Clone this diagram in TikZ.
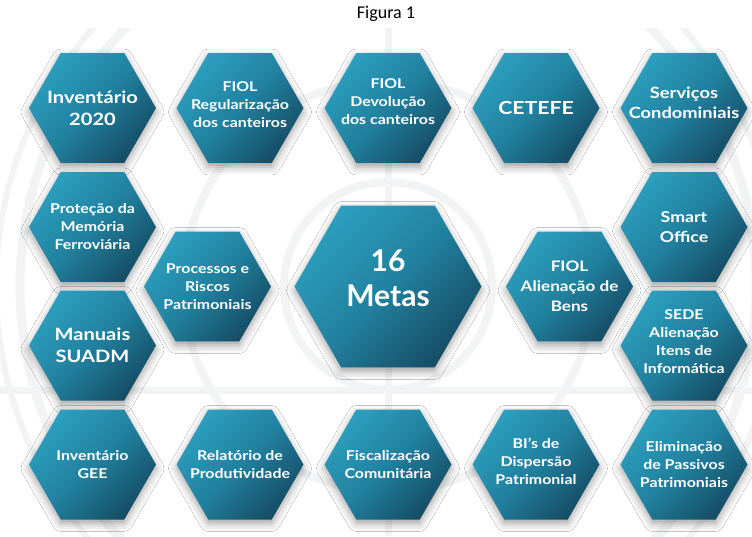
\documentclass[tikz,border=0pt]{standalone}
\usepackage{fontspec}
\setmainfont{Lato}
\newfontfamily\hexfont{Lato}[FakeStretch=1.18]
\newfontfamily\figfont{Carlito}
\usetikzlibrary{shapes.geometric,shadows.blur}
\definecolor{hexlight}{HTML}{2C9EBE}
\definecolor{hexmid}{HTML}{21819F}
\definecolor{hexdark}{HTML}{164D66}
\definecolor{bgline}{HTML}{F2F3F4}
% invisible depth that lifts a node's text by half its value
\newcommand\txtlift[1]{\rule[-#1]{0pt}{0pt}}
\tikzset{
  hexa/.style={regular polygon, regular polygon sides=6, minimum size=127pt,
    inner sep=-30pt, draw=none, align=center, text=white,
    top color=hexlight, bottom color=hexdark, middle color=hexmid, shading angle=45,
    font=\hexfont\bfseries\fontsize{13.5}{18}\selectfont,
    blur shadow={shadow xshift=0pt, shadow yshift=-4pt, shadow blur radius=8pt, shadow opacity=38}},
  bigtext/.style={font=\hexfont\bfseries\fontsize{17}{22}\selectfont},
  ring/.style={draw=bgline, line width=#1},
}
\begin{document}
\begin{tikzpicture}[x=1pt,y=-1pt]
\useasboundingbox (0,0) rectangle (752,536);
\fill[white] (0,0) rectangle (752,536);
\begin{scope}
\clip (0,28) rectangle (752,536);
\draw[ring=8pt] (388,286) circle (104);
\draw[ring=8pt] (388,286) circle (205);
\draw[ring=9pt] (388,286) circle (368);
\draw[ring=6pt] (388,286) circle (392);
\draw[ring=7pt] (388,28) -- (388,536);
\draw[ring=7pt] (0,390) -- (752,390);
\end{scope}
\node[font=\figfont\fontsize{18}{21}\selectfont] (title) at (386,14) {Figura 1};
% top row
\node[hexa, bigtext] (inv2020) at (92.5,108) {Inventário\\2020};
\node[hexa] (fiolreg) at (240,108) {FIOL\\Regularização\\dos canteiros\txtlift{6pt}};
\node[hexa] (fioldev) at (388,108) {FIOL\\Devolução\\dos canteiros\txtlift{12pt}};
\node[hexa, font=\hexfont\bfseries\fontsize{18}{22}\selectfont] (cetefe) at (536,108) {CETEFE};
\node[hexa, font=\hexfont\bfseries\fontsize{15.5}{20}\selectfont] (servicos) at (684,108) {Serviços\\Condominiais\txtlift{10pt}};
% second row
\node[hexa] (protecao) at (92.5,227) {Proteção da\\Memória\\Ferroviária};
\node[hexa, font=\hexfont\bfseries\fontsize{15}{20}\selectfont] (smart) at (684,227) {Smart\\Office};
% middle row
\node[hexa] (processos) at (207.5,286.5) {Processos e\\Riscos\\Patrimoniais};
\node[hexa, minimum size=187pt, font=\bfseries\fontsize{30}{35}\selectfont] (metas) at (388,286.5) {16\\Metas\txtlift{16pt}};
\node[hexa, font=\hexfont\bfseries\fontsize{14.5}{20}\selectfont] (fiolalien) at (569.5,286.5) {FIOL\\Alienação de\\Bens};
% fourth row
\node[hexa, bigtext] (manuais) at (92.5,345.5) {Manuais\\SUADM};
\node[hexa] (sede) at (684,345.5) {SEDE\\Alienação\\Itens de\\Informática\txtlift{8pt}};
% bottom row
\node[hexa] (invgee) at (92.5,464.5) {Inventário\\GEE};
\node[hexa] (relatorio) at (240,464.5) {Relatório de\\Produtividade};
\node[hexa] (fiscal) at (388,464.5) {Fiscalização\\Comunitária};
\node[hexa] (bis) at (536,464.5) {BI’s de\\Dispersão\\Patrimonial\txtlift{6pt}};
\node[hexa] (elim) at (684,464.5) {Eliminação\\de Passivos\\Patrimoniais};
\end{tikzpicture}
\end{document}
